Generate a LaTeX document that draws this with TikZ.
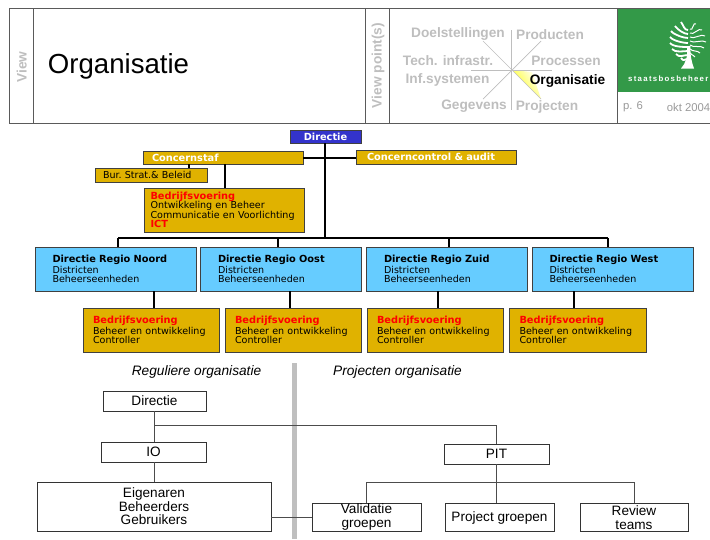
\documentclass[tikz,border=0pt]{standalone}
\usepackage{xcolor}
\usepackage{fontspec}
\setmainfont{Liberation Sans}
\newfontfamily\verdfont{DejaVu Sans}
\definecolor{sbbgreen}{RGB}{51,153,72}
\definecolor{staffgold}{RGB}{224,178,0}
\definecolor{regioblue}{RGB}{102,204,255}
\definecolor{topblue}{RGB}{51,51,204}
\definecolor{vpgrey}{RGB}{190,190,190}
\definecolor{frameline}{RGB}{90,90,90}
\newcommand{\fsize}[1]{\fontsize{#1}{#1}\selectfont}
\newcommand{\vet}[1]{{\fsize{9.8}\textbf{#1}}}
\newcommand{\rood}[1]{\textcolor{red}{\vet{#1}}}
\tikzset{
  orgbox/.style={draw=black!75,line width=0.9pt,inner sep=0pt,font=\verdfont\fsize{9.55},align=left},
  goldbox/.style={orgbox,fill=staffgold},
  bluebox/.style={orgbox,fill=regioblue},
  plainbox/.style={draw=black!80,line width=0.7pt,fill=white,inner sep=0pt,align=center,font=\fsize{13.6}},
  thick line/.style={line width=2.3pt,black},
  thin line/.style={line width=0.8pt,black!70},
  vptext/.style={text=vpgrey,font=\bfseries\fsize{13.7},inner sep=0pt},
}
\begin{document}
\begin{tikzpicture}[x=1pt,y=-1pt]
\useasboundingbox (0,0) rectangle (710,539);
% header
\fill[sbbgreen] (617,9) rectangle (710,92);
\draw[frameline,line width=0.9pt] (710,8.5) -- (9.5,8.5) -- (9.5,123) -- (710,123);
\foreach \xpos in {33.5,365,389.5,617}
  \draw[frameline,line width=0.9pt] (\xpos,8.5) -- (\xpos,123);
\node[rotate=90,vptext] (viewlab) at (21.7,67) {View};
\node[inner sep=0pt,font=\fsize{27.6}] (title) at (118.5,66) {Organisatie};
\node[rotate=90,vptext] (vplab) at (378,65.5) {View point(s)};
% view point star
\shade[left color=yellow,right color=white,shading angle=125] (512,70) -- (532,72) -- (541,99) -- cycle;
\draw[vpgrey,line width=0.7pt] (511.5,30) -- (511.5,110);
\draw[vpgrey,line width=0.7pt] (471,70.5) -- (552,70.5);
\draw[vpgrey,line width=0.7pt] (483,41) -- (541,99);
\draw[vpgrey,line width=0.7pt] (541,41) -- (483,99);
\node[vptext] (vp1) at (458,34) {Doelstellingen};
\node[vptext] (vp2) at (550,34.5) {Producten};
\node[vptext] (vp3) at (448,60.5) {Tech. infrastr.};
\node[vptext] (vp4) at (566,60.5) {Processen};
\node[vptext] (vp5) at (447.5,79.5) {Inf.systemen};
\node[vptext,text=black] (vp6) at (567.5,80.5) {Organisatie};
\node[vptext] (vp7) at (474,106.5) {Gegevens};
\node[vptext] (vp8) at (547,106.5) {Projecten};
% logo
\begin{scope}[white]
\fill (681,68.5) .. controls (686,63) and (688,56) .. (687,46) -- (690.5,46) .. controls (690,56) and (692,63) .. (694,68.5) -- cycle;
\foreach \ys/\xe/\ye in {30/681/22,34/675/26,38/671/31,43/670/37,47/670/43,51/672/49,55/676/54,59/681/58}
  \draw[line width=1.8pt] (688,\ys) .. controls (684,\ys) and (\xe+3,\ye+4) .. (\xe,\ye);
\foreach \ys/\xe/\ye in {29/696/24,33/702/30,37/705/36,41/706/42,45/704/48,49/700/53,53/695/57}
  \draw[line width=1pt] (690,\ys) .. controls (693,\ys+3) and (\xe-3,\ye-3) .. (\xe,\ye);
\end{scope}
\node[text=white,font=\bfseries\fsize{7.8},inner sep=0pt,anchor=west] (logotxt) at (628,79) {s\,t\,a\,a\,t\,s\,b\,o\,s\,b\,e\,h\,e\,e\,r};
\node[text=black!40,font=\fsize{11.3},inner sep=0pt] (pagenr) at (633,107) {p. 6};
\node[text=black!40,font=\fsize{11.3},inner sep=0pt] (datum) at (688.5,107) {okt 2004};
% directie en staf
\node[orgbox,fill=topblue,text=white,font=\verdfont\bfseries\fsize{9.8},minimum width=71pt,minimum height=13pt,align=center] (directie) at (325.5,136.5) {Directie};
\node[goldbox,text=white,font=\verdfont\bfseries\fsize{9.8},minimum width=160pt,minimum height=13pt,text width=142pt] (concernstaf) at (223,157.5) {Concernstaf};
\node[goldbox,text=white,font=\verdfont\bfseries\fsize{9.8},minimum width=160pt,minimum height=14pt,text width=138pt] (control) at (436,157) {Concerncontrol \& audit};
\node[goldbox,minimum width=112pt,minimum height=14pt,text width=96pt] (burstrat) at (151,175) {Bur.\ Strat.\& Beleid};
\node[goldbox,minimum width=160pt,minimum height=44pt,text width=147pt] (bedrijf) at (224,210) {\baselineskip=9.5pt\rood{Bedrijfsvoering}\\Ontwikkeling en Beheer\\\mbox{Communicatie en Voorlichting}\\\rood{ICT}};
% regio's
\foreach \name/\regio/\xpos in {noord/Noord/115.5,oost/Oost/281,zuid/Zuid/447,west/West/612.5}
  \node[bluebox,minimum width=161pt,minimum height=44pt,text width=126pt] (reg\name) at (\xpos,269) {\baselineskip=9.2pt\vet{Directie Regio \regio}\\Districten\\Beheerseenheden};
\foreach \name/\xpos/\boxw in {noord/151/136,oost/293/136,zuid/435/136,west/577.5/137}
  \node[goldbox,minimum width=\boxw pt,minimum height=44pt,text width=116pt] (sub\name) at (\xpos,330) {\baselineskip=9.2pt\rood{Bedrijfsvoering}\\Beheer en ontwikkeling\\Controller};
\coordinate (trunkbus) at (325,238);
\coordinate (staftrunk) at (325,158);
\draw[thick line] (directie.south -| trunkbus) -- (trunkbus);
\draw[thick line] (concernstaf.east |- staftrunk) -- (control.west |- staftrunk);
\coordinate (busnoord) at (118,238);
\coordinate (busoost) at (278,238);
\coordinate (buszuid) at (449,238);
\coordinate (buswest) at (608,238);
\draw[thick line] (busnoord) -- (buswest);
\foreach \name in {noord,oost,zuid,west}
  \draw[thick line] (bus\name) -- (bus\name |- reg\name.north);
\coordinate (vnoord) at (154,291);
\coordinate (voost) at (290,291);
\coordinate (vzuid) at (438,291);
\coordinate (vwest) at (574,291);
\foreach \name in {noord,oost,zuid,west}
  \draw[thick line] (v\name |- reg\name.south) -- (v\name |- sub\name.north);
\coordinate (vstaf) at (225,164);
\draw[thick line] (vstaf |- concernstaf.south) -- (vstaf |- bedrijf.north);
\coordinate (vbur) at (189,164);
\draw[line width=1.4pt,black] (vbur |- concernstaf.south) -- (vbur |- burstrat.north);
% onderste deel
\fill[black!25] (291.5,363) rectangle (296.5,539);
\node[font=\itshape\fsize{13.7},inner sep=0pt] (regulier) at (196.5,371.5) {Reguliere organisatie};
\node[font=\itshape\fsize{13.7},inner sep=0pt] (projecten) at (397.5,371.5) {Projecten organisatie};
\node[plainbox,minimum width=103pt,minimum height=20pt] (dirlow) at (154.5,401) {Directie};
\node[plainbox,minimum width=105pt,minimum height=20pt] (iolow) at (153.5,452) {IO};
\node[plainbox,minimum width=234pt,minimum height=49pt] (eigenaren) at (154,506.5) {\baselineskip=13.5pt Eigenaren\\Beheerders\\Gebruikers};
\node[plainbox,minimum width=109pt,minimum height=28pt] (validatie) at (366.5,517) {\baselineskip=14pt Validatie\\groepen};
\node[plainbox,minimum width=105pt,minimum height=20pt] (pit) at (496.5,454) {PIT};
\node[plainbox,minimum width=109pt,minimum height=28pt] (projgroep) at (499.5,517.5) {Project groepen};
\node[plainbox,minimum width=108pt,minimum height=28pt] (review) at (634,517.5) {\baselineskip=14pt Review\\teams};
\coordinate (lowtrunk) at (154.5,425.5);
\coordinate (pitdrop) at (496,425.5);
\coordinate (pitbus) at (496.5,482.5);
\coordinate (busval) at (366,482.5);
\coordinate (busrev) at (634,482.5);
\draw[thin line] (dirlow.south) -- (lowtrunk);
\draw[thin line] (lowtrunk) -- (lowtrunk |- iolow.north);
\draw[thin line] (lowtrunk |- iolow.south) -- (lowtrunk |- eigenaren.north);
\draw[thin line] (lowtrunk) -- (pitdrop) -- (pitdrop |- pit.north);
\draw[thin line] (pitbus |- pit.south) -- (pitbus |- projgroep.north);
\draw[thin line] (busval |- validatie.north) -- (busval) -- (busrev) -- (busrev |- review.north);
\draw[thin line] (eigenaren.east |- validatie.center) -- (validatie.west);
\end{tikzpicture}
\end{document}
